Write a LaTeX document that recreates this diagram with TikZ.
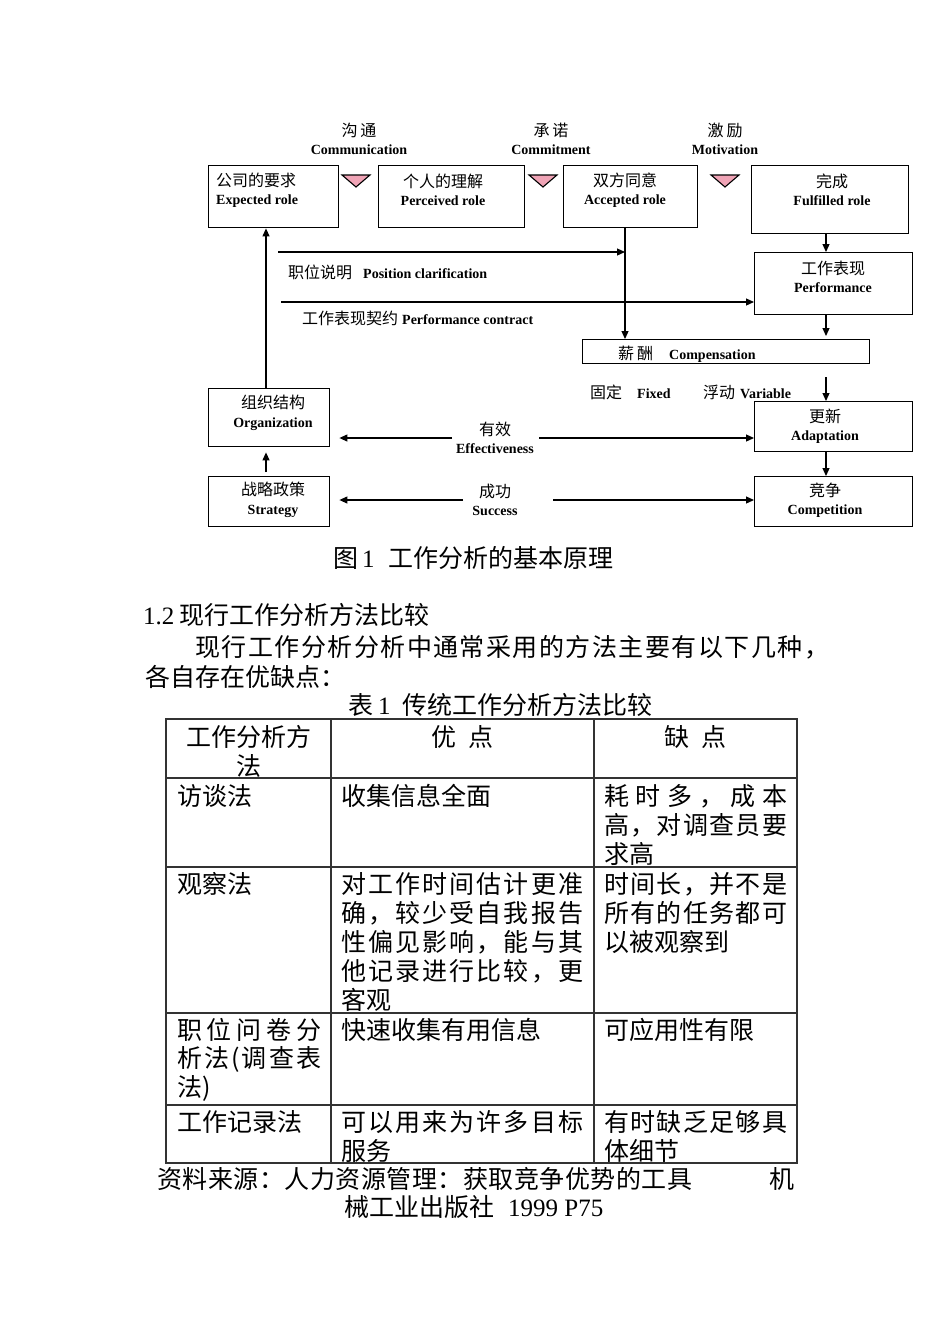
\documentclass[tikz,border=0pt]{standalone}
\usepackage{fontspec}
\setmainfont{Liberation Serif}
\newfontfamily\cjk{Noto Sans CJK SC}
\usetikzlibrary{arrows.meta}
\definecolor{pinkc}{RGB}{240,164,182}
\def\spreadcnX#1{\ifx#1\relax\unskip\else#1\hfill\expandafter\spreadcnX\fi}
\newcommand\spreadcn[2]{\makebox[#1][s]{\spreadcnX#2\relax}}
\tikzset{
  box/.style={draw, line width=1.4pt, anchor=north west, inner sep=0pt},
  lbl/.style={inner sep=0pt, align=center, font=\fontsize{14}{18.5}\selectfont},
  cn/.style={inner sep=0pt, anchor=west, font=\fontsize{14}{18}\selectfont},
  arr/.style={line width=1.2pt, -{Triangle[length=8pt,width=7pt]}},
  tri/.style={draw, line width=1.1pt, fill=pinkc, line join=miter},
  body/.style={inner sep=0pt, anchor=west, font=\cjk\fontsize{25}{29}\selectfont},
  bodyc/.style={inner sep=0pt, anchor=center, font=\cjk\fontsize{25}{29}\selectfont},
  tline/.style={line width=1.2pt, draw=black!80},
}
\newcommand\zh[1]{{\cjk\fontsize{16}{18}\selectfont #1}}
\begin{document}
\begin{tikzpicture}[x=1pt,y=-1pt]
\useasboundingbox (0,0) rectangle (950,1344);

% ---------- top labels ----------
\node[lbl] (lc1) at (359,139) {\zh{沟\hspace{3pt}通}\\\textbf{Communication}};
\node[lbl] (lc2) at (551,139) {\zh{承\hspace{3pt}诺}\\\textbf{Commitment}};
\node[lbl] (lc3) at (725,139) {\zh{激\hspace{3pt}励}\\\textbf{Motivation}};

% ---------- boxes ----------
\node[box, minimum width=130pt, minimum height=62pt] (b1) at (208,165) {};
\node[box, minimum width=146pt, minimum height=62pt] (b2) at (378,165) {};
\node[box, minimum width=134pt, minimum height=62pt] (b3) at (563,165) {};
\node[box, minimum width=157pt, minimum height=68pt] (b4) at (751,165) {};
\node[box, minimum width=158pt, minimum height=62pt] (perf) at (754,252) {};
\node[box, minimum width=287pt, minimum height=24pt] (comp) at (582,339) {};
\node[box, minimum width=158pt, minimum height=50pt] (adapt) at (754,401) {};
\node[box, minimum width=158pt, minimum height=50pt] (compet) at (754,476) {};
\node[box, minimum width=121pt, minimum height=58pt] (org) at (208,388) {};
\node[box, minimum width=121pt, minimum height=50pt] (strat) at (208,476) {};

% ---------- box texts ----------
\node[lbl, align=left, anchor=west] (t1) at (216,190) {\zh{公司的要求}\\\textbf{Expected role}};
\node[lbl] (t2) at (443,190) {\zh{个人的理解}\\\textbf{Perceived role}};
\node[lbl] (t3) at (625,190) {\zh{双方同意}\\\textbf{Accepted role}};
\node[lbl] (t4) at (832,190) {\zh{完成}\\\textbf{Fulfilled role}};
\node[lbl] (t5) at (833,277) {\zh{工作表现}\\\textbf{Performance}};
\node[cn] (t6) at (618,354) {\zh{薪\hspace{3pt}酬}\hspace{16pt}\textbf{Compensation}};
\node[lbl] (t7) at (825,426) {\zh{更新}\\\textbf{Adaptation}};
\node[lbl] (t8) at (825,500) {\zh{竞争}\\\textbf{Competition}};
\node[lbl] (t9) at (273,413) {\zh{组织结构}\\\textbf{Organization}};
\node[lbl] (t10) at (273,500) {\zh{战略政策}\\\textbf{Strategy}};

% ---------- free labels ----------
\node[cn] (lpos) at (288,272) {\zh{职位说明}\hspace{11pt}\textbf{Position clarification}};
\node[cn] (lcon) at (302,318) {\zh{工作表现契约}\hspace{4pt}\textbf{Performance contract}};
\node[cn] (lfix) at (590,392) {\zh{固定}\hspace{15pt}\textbf{Fixed}};
\node[cn] (lvar) at (703,392) {\zh{浮动}\hspace{5pt}\textbf{Variable}};
\node[lbl] (leff) at (495,438) {\zh{有效}\\\textbf{Effectiveness}};
\node[lbl] (lsuc) at (495,500) {\zh{成功}\\\textbf{Success}};

% ---------- triangles ----------
\draw[tri] (342,175) -- (370,175) -- (356,187) -- cycle;
\draw[tri] (529,175) -- (557,175) -- (543,187) -- cycle;
\draw[tri] (711,175) -- (739,175) -- (725,187) -- cycle;

% ---------- connectors ----------
\coordinate (xL) at (266,0);
\coordinate (xM) at (625,0);
\coordinate (xR) at (826,0);
\coordinate (p0) at (278,252);
\coordinate (c0) at (281,302);
\coordinate (v0) at (826,377);
\coordinate (e1) at (452,438);
\coordinate (e2) at (539,438);
\coordinate (s1) at (463,500);
\coordinate (s2) at (553,500);

\draw[arr] (org.north -| xL) -- (b1.south -| xL);
\draw[arr, shorten <=4pt, shorten >=5pt] (strat.north -| xL) -- (org.south -| xL);
\draw[arr] (b3.south -| xM) -- (comp.north -| xM);
\draw[arr] (p0) -- (p0 -| xM);
\draw[arr] (c0) -- (c0 -| perf.west);
\draw[arr] (b4.south -| xR) -- (perf.north -| xR);
\draw[arr, shorten >=3pt] (perf.south -| xR) -- (comp.north -| xR);
\draw[arr] (v0) -- (adapt.north -| xR);
\draw[arr] (adapt.south -| xR) -- (compet.north -| xR);
\draw[arr, shorten >=9pt] (e1) -- (e1 -| org.east);
\draw[arr] (e2) -- (e2 -| adapt.west);
\draw[arr, shorten >=9pt] (s1) -- (s1 -| strat.east);
\draw[arr] (s2) -- (s2 -| compet.west);

% ---------- caption & text ----------
\node[body] (cap) at (333,558) {图\hspace{4pt}{\rmfamily 1}\hspace{14pt}工作分析的基本原理};
\node[body] (sec) at (143,615) {{\rmfamily 1.2}\hspace{5pt}现行工作分析方法比较};
\node[body] (par1) at (195,647) {\spreadcn{634pt}{现行工作分析分析中通常采用的方法主要有以下几种，}};
\node[body] (par2) at (145,677) {各自存在优缺点：};
\node[body] (ttl) at (348,705) {表\hspace{5pt}{\rmfamily 1}\hspace{12pt}传统工作分析方法比较};

% ---------- table ----------
\draw[tline] (166,719) rectangle (797,1163);
\foreach \yy in {778,867,1013,1105} \draw[tline] (166,\yy) -- (797,\yy);
\draw[tline] (331,719) -- (331,1163);
\draw[tline] (594,719) -- (594,1163);

\node[bodyc] (h1a) at (248.5,737) {工作分析方};
\node[bodyc] (h1b) at (248.5,766) {法};
\node[bodyc] (h2) at (462.5,737) {优\hspace{12pt}点};
\node[bodyc] (h3) at (695.5,737) {缺\hspace{12pt}点};

\node[body] (r1a) at (177,796) {访谈法};
\node[body] (r1b) at (341,796) {收集信息全面};
\node[body] (r1c1) at (604,796) {\spreadcn{183pt}{耗时多，成本}};
\node[body] (r1c2) at (604,825) {\spreadcn{183pt}{高，对调查员要}};
\node[body] (r1c3) at (604,854) {求高};

\node[body] (r2a) at (177,884) {观察法};
\node[body] (r2b1) at (341,884) {\spreadcn{242pt}{对工作时间估计更准}};
\node[body] (r2b2) at (341,913) {\spreadcn{242pt}{确，较少受自我报告}};
\node[body] (r2b3) at (341,942) {\spreadcn{242pt}{性偏见影响，能与其}};
\node[body] (r2b4) at (341,971) {\spreadcn{242pt}{他记录进行比较，更}};
\node[body] (r2b5) at (341,1000) {客观};
\node[body] (r2c1) at (604,884) {\spreadcn{183pt}{时间长，并不是}};
\node[body] (r2c2) at (604,913) {\spreadcn{183pt}{所有的任务都可}};
\node[body] (r2c3) at (604,942) {以被观察到};

\node[body] (r3a1) at (177,1030) {\spreadcn{144pt}{职位问卷分}};
\node[body] (r3a2) at (177,1059) {\spreadcn{144pt}{析法(调查表}};
\node[body] (r3a3) at (177,1088) {法)};
\node[body] (r3b) at (341,1030) {快速收集有用信息};
\node[body] (r3c) at (604,1030) {可应用性有限};

\node[body] (r4a) at (177,1122) {工作记录法};
\node[body] (r4b1) at (341,1122) {\spreadcn{242pt}{可以用来为许多目标}};
\node[body] (r4b2) at (341,1151) {服务};
\node[body] (r4c1) at (604,1122) {\spreadcn{183pt}{有时缺乏足够具}};
\node[body] (r4c2) at (604,1151) {体细节};

\node[body] (src1) at (157,1179) {\spreadcn{535pt}{资料来源：人力资源管理：获取竞争优势的工具}};
\node[body] (src2) at (769,1179) {机};
\node[body] (src3) at (344,1207) {械工业出版社\hspace{14pt}{\rmfamily 1999 P75}};
\end{tikzpicture}
\end{document}
